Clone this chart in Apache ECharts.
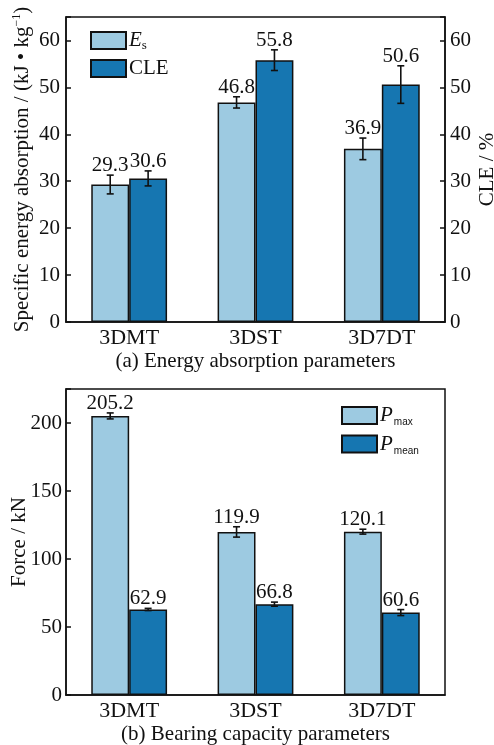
<!DOCTYPE html>
<html>
<head>
<meta charset="utf-8">
<script src="https://cdn.jsdelivr.net/npm/echarts@6/dist/echarts.min.js"></script>
<style>
  html, body { margin: 0; padding: 0; background: #fff; }
  #chart { width: 494px; height: 745px; }
</style>
</head>
<body>
<div id="chart"></div>
<script>
// Specimen categories
const categories = ['3DMT', '3DST', '3D7DT'];

// (a) Energy absorption: specific energy absorption (kJ/kg) and CLE (%)
const esValues = [29.3, 46.8, 36.9];
const esErr = [2.0, 1.2, 2.3];
const cleValues = [30.6, 55.8, 50.6];
const cleErr = [1.6, 2.2, 4.0];

// (b) Bearing capacity: peak and mean crushing force (kN)
const pmaxValues = [205.2, 119.9, 120.1];
const pmaxErr = [2.2, 3.8, 1.8];
const pmeanValues = [62.9, 66.8, 60.6];
const pmeanErr = [0.8, 1.5, 2.2];

// Axis tick values
const ticksA = [0, 10, 20, 30, 40, 50, 60];
const ticksB = [0, 50, 100, 150, 200];

const LIGHT = '#9dcae1';
const DARK = '#1676b1';
const FONT = "'Liberation Serif', 'Times New Roman', serif";
const INK = '#111';

const chart = echarts.init(document.getElementById('chart'));

// Error bar plus value label, shifted to the bar's slot in the category
function errorSeries(name, values, errs, side, xAxisIndex, yAxisIndex) {
  return {
    name: name + ' err',
    type: 'custom',
    xAxisIndex: xAxisIndex,
    yAxisIndex: yAxisIndex,
    z: 10,
    silent: true,
    data: values.map((v, i) => [i, v, errs[i]]),
    renderItem: function (params, api) {
      const x = api.value(0), v = api.value(1), e = api.value(2);
      const band = api.size([1, 0])[0];
      const dx = side * band * 0.15;
      const top = api.coord([x, v + e]);
      const bot = api.coord([x, v - e]);
      const cx = top[0] + dx;
      const cap = 3.5;
      const ls = { stroke: '#111', lineWidth: 1.6 };
      return {
        type: 'group',
        children: [
          { type: 'line', shape: { x1: cx, y1: top[1], x2: cx, y2: bot[1] }, style: ls },
          { type: 'line', shape: { x1: cx - cap, y1: top[1], x2: cx + cap, y2: top[1] }, style: ls },
          { type: 'line', shape: { x1: cx - cap, y1: bot[1], x2: cx + cap, y2: bot[1] }, style: ls },
          {
            type: 'text',
            x: cx, y: top[1] + 1,
            style: {
              text: v.toFixed(1), fill: INK, font: '21px ' + FONT,
              align: 'center', verticalAlign: 'bottom'
            }
          }
        ]
      };
    }
  };
}

function barSeries(name, values, color, xAxisIndex, yAxisIndex) {
  return {
    name: name,
    type: 'bar',
    xAxisIndex: xAxisIndex,
    yAxisIndex: yAxisIndex,
    data: values,
    barGap: '0%',
    barCategoryGap: '40%',
    itemStyle: { color: color, borderColor: '#111', borderWidth: 1.5 },
    emphasis: { disabled: true }
  };
}

const axisLineStyle = { lineStyle: { color: '#111', width: 1.5 } };
const tickStyle = { show: true, inside: true, length: 5, lineStyle: { color: '#111', width: 1.5 } };
const labelStyle = { color: INK, fontSize: 21, fontFamily: FONT };
const catLabelStyle = { color: INK, fontSize: 22, fontFamily: FONT };

const subRich = {
  i: { fontFamily: FONT, fontStyle: 'italic', fontSize: 21, color: INK },
  n: { fontFamily: FONT, fontSize: 21, color: INK },
  sub: { fontFamily: FONT, fontSize: 13, color: INK, padding: [10, 0, 0, 0] },
  ssub: { fontFamily: "'Liberation Sans', Arial, sans-serif", fontSize: 10, color: INK, padding: [14, 0, 0, 1] }
};

const gridBase = {
  left: 66, right: 49, show: true, borderColor: '#111', borderWidth: 1.5,
  backgroundColor: 'transparent', containLabel: false, outerBoundsMode: 'none'
};

const option = {
  backgroundColor: '#fff',
  animation: false,
  legend: [
    {
      data: ['Es', 'CLE'],
      orient: 'vertical',
      left: 85, top: 25,
      itemWidth: 35, itemHeight: 17, itemGap: 6,
      icon: 'rect',
      selectedMode: false,
      textStyle: { rich: subRich, padding: [0, 0, 0, -2] },
      formatter: n => n === 'Es' ? '{i|E}{sub|s}' : '{n|CLE}'
    },
    {
      data: ['Pmax', 'Pmean'],
      orient: 'vertical',
      left: 336, top: 400,
      itemWidth: 35, itemHeight: 17, itemGap: 6,
      icon: 'rect',
      selectedMode: false,
      textStyle: { rich: subRich, padding: [0, 0, 0, -2] },
      formatter: n => n === 'Pmax' ? '{i|P}{ssub|max}' : '{i|P}{ssub|mean}'
    }
  ],
  grid: [
    Object.assign({ top: 17, height: 305 }, gridBase),
    Object.assign({ top: 389, height: 306 }, gridBase)
  ],
  xAxis: [
    {
      type: 'category', gridIndex: 0, data: categories,
      axisLine: axisLineStyle, axisTick: { show: false },
      axisLabel: Object.assign({ margin: 5 }, catLabelStyle),
      name: '(a) Energy absorption parameters',
      nameLocation: 'middle', nameGap: 29, nameMoveOverlap: false,
      nameTextStyle: labelStyle
    },
    {
      type: 'category', gridIndex: 1, data: categories,
      axisLine: axisLineStyle, axisTick: { show: false },
      axisLabel: Object.assign({ margin: 5 }, catLabelStyle),
      name: '(b) Bearing capacity parameters',
      nameLocation: 'middle', nameGap: 29, nameMoveOverlap: false,
      nameTextStyle: labelStyle
    }
  ],
  yAxis: [
    {
      type: 'value', gridIndex: 0, min: 0, max: 65, interval: 10,
      axisLine: Object.assign({ show: true }, axisLineStyle),
      axisTick: tickStyle, splitLine: { show: false },
      axisLabel: Object.assign({ margin: 6, customValues: ticksA }, labelStyle),
      name: 'Specific energy absorption / (kJ • kg{sup|−1})',
      nameLocation: 'middle', nameGap: 33, nameRotate: 90, nameMoveOverlap: false,
      nameTextStyle: Object.assign({
        rich: {
          sup: { fontFamily: FONT, fontSize: 12, color: INK, padding: [0, 0, 10, 0] }
        }
      }, labelStyle)
    },
    {
      type: 'value', gridIndex: 0, min: 0, max: 65, interval: 10, position: 'right',
      axisLine: Object.assign({ show: true }, axisLineStyle),
      axisTick: tickStyle, splitLine: { show: false },
      axisLabel: Object.assign({ margin: 5, customValues: ticksA }, labelStyle),
      name: 'CLE / %',
      nameLocation: 'middle', nameGap: 32, nameRotate: 90, nameMoveOverlap: false,
      nameTextStyle: labelStyle
    },
    {
      type: 'value', gridIndex: 1, min: 0, max: 225, interval: 50,
      axisLine: Object.assign({ show: true }, axisLineStyle),
      axisTick: tickStyle, splitLine: { show: false },
      axisLabel: Object.assign({ margin: 4, customValues: ticksB }, labelStyle),
      name: 'Force / kN',
      nameLocation: 'middle', nameGap: 36, nameRotate: 90, nameMoveOverlap: false,
      nameTextStyle: labelStyle
    }
  ],
  series: [
    barSeries('Es', esValues, LIGHT, 0, 0),
    barSeries('CLE', cleValues, DARK, 0, 1),
    errorSeries('Es', esValues, esErr, -1, 0, 0),
    errorSeries('CLE', cleValues, cleErr, 1, 0, 1),
    barSeries('Pmax', pmaxValues, LIGHT, 1, 2),
    barSeries('Pmean', pmeanValues, DARK, 1, 2),
    errorSeries('Pmax', pmaxValues, pmaxErr, -1, 1, 2),
    errorSeries('Pmean', pmeanValues, pmeanErr, 1, 1, 2)
  ]
};

chart.setOption(option);
</script>
</body>
</html>
